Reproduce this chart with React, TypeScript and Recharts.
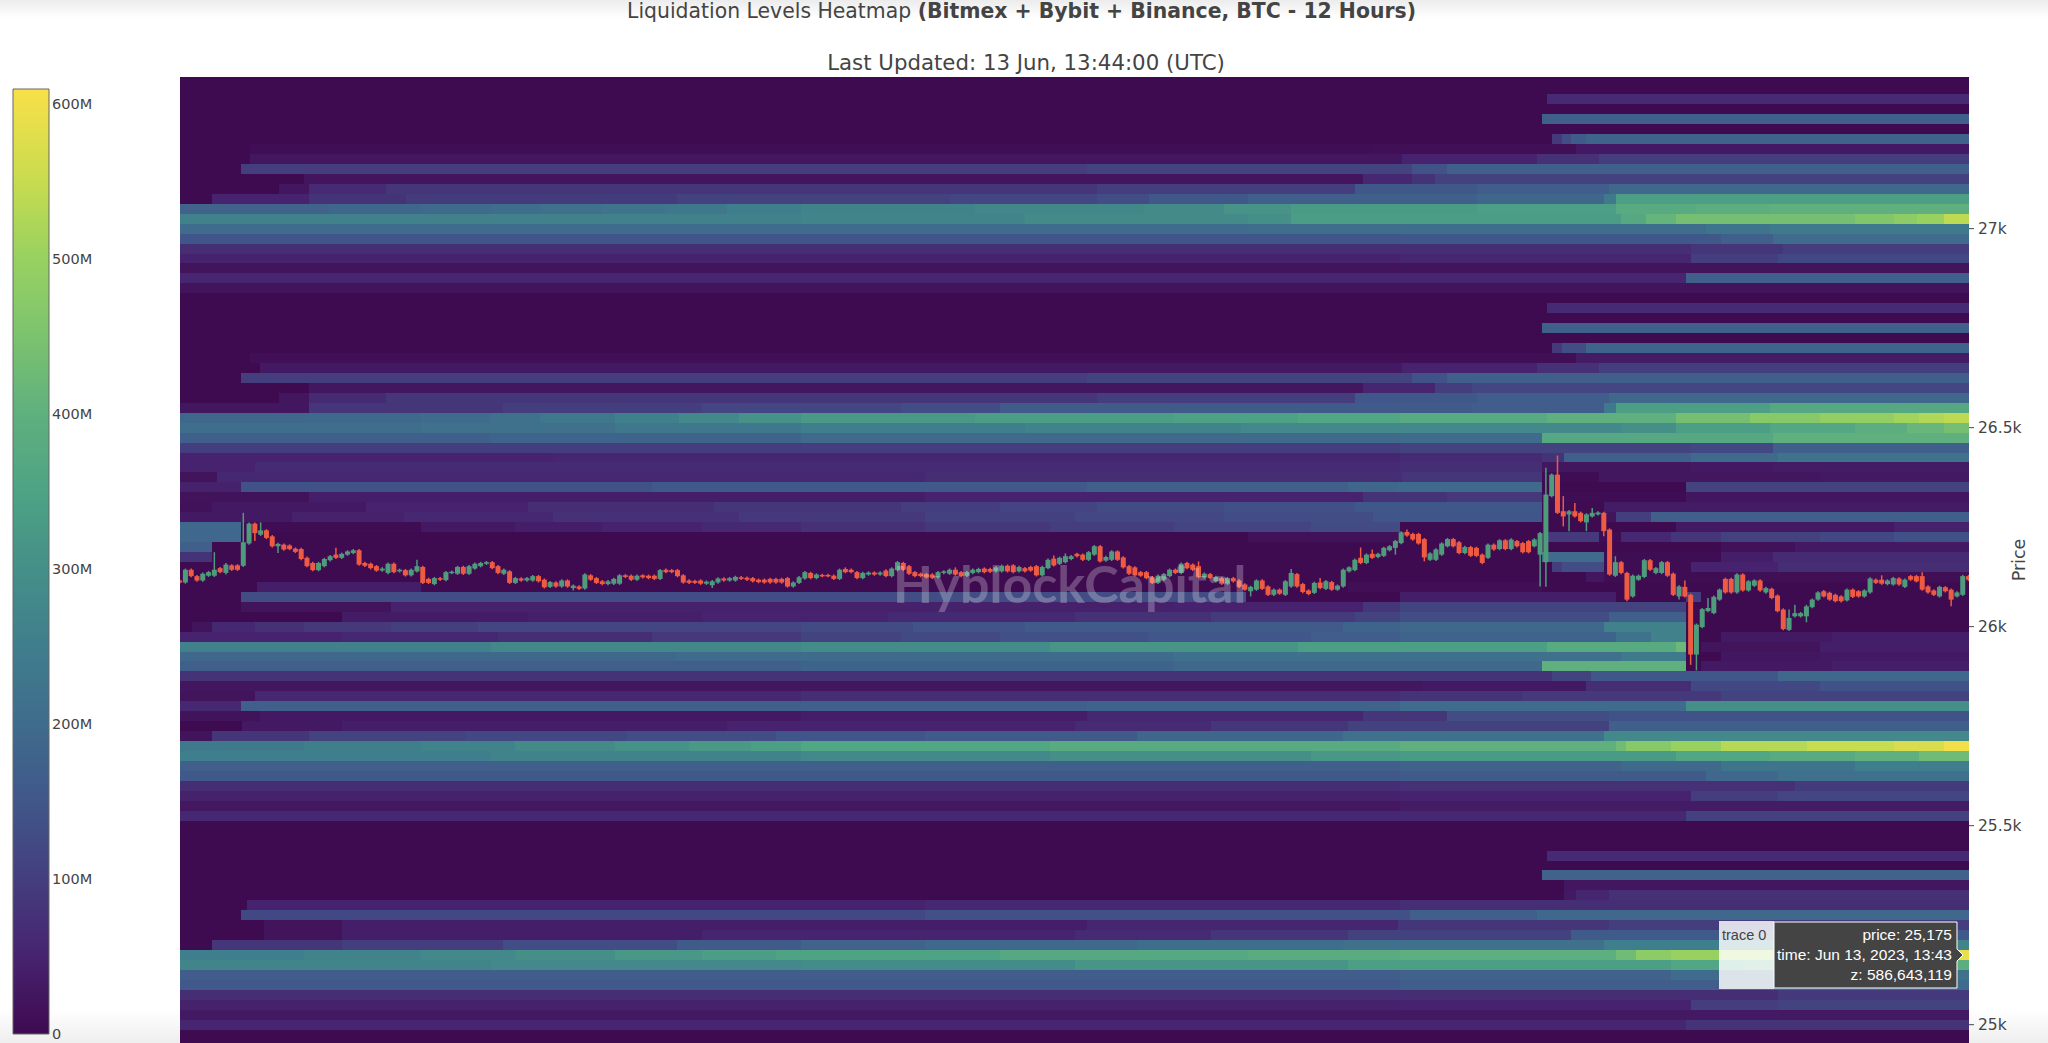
import React from 'react';
import { BarChart, Bar, ComposedChart, ReferenceArea, XAxis, YAxis } from 'recharts';

const PRICE_BIN = 25;
const LAST_MINUTE = 720;
const MINUTES_PER_CANDLE = 2.33;
const PRICE_BASE = 26000;

const priceTicks = [25000, 25500, 26000, 26500, 27000];
const zTicks = [0, 100, 200, 300, 400, 500, 600];

// z in millions -> colour
const zStops = [0, 50, 100, 150, 200, 250, 300, 350, 400, 450, 500, 550, 609];
const zColors = ['#3e0a50', '#47236f', '#443e7e', '#40578a', '#3f6c8c', '#3f7e8c', '#458f88', '#4ea384', '#5fb07e', '#7cc36f', '#98d160', '#c8dc4f', '#f9e049'];

// each level: price, then [start minute, z in millions] steps from the left edge
const heatLevels: [number, number[]][] = [
  [27325, [550, 65]],
  [27275, [548, 170]],
  [27225, [552, 90, 556, 130, 560, 160, 566, 180]],
  [27200, [28, 8, 480, 10, 562, 30]],
  [27175, [28, 25, 492, 50, 546, 75, 571, 100]],
  [27150, [24.5, 100, 365, 110, 496, 140, 510, 170]],
  [27125, [50, 22, 476, 60, 496, 80, 505, 105]],
  [27100, [40, 25, 52, 65, 83, 85, 369, 100, 473, 150, 522, 165, 575, 190]],
  [27075, [13, 50, 52, 80, 91, 95, 200, 105, 310, 115, 369, 130, 390, 150, 430, 170, 522, 185, 573, 240, 578, 340]],
  [27050, [0, 175, 60, 185, 97, 195, 125, 205, 145, 212, 170, 222, 195, 232, 220, 250, 250, 265, 320, 275, 388, 285, 420, 310, 447, 330, 522, 340, 578, 380, 610, 390, 640, 400]],
  [27025, [0, 260, 250, 270, 340, 285, 430, 300, 447, 335, 580, 370, 590, 410, 602, 440, 674, 460, 690, 480, 699, 500, 710, 540]],
  [27000, [0, 200, 430, 205, 614, 225, 640, 235]],
  [26975, [0, 145, 491, 150, 620, 170, 641, 200]],
  [26950, [0, 70, 608, 85, 645, 100]],
  [26925, [0, 48, 491, 55, 608, 100, 643, 120]],
  [26900, [0, 20]],
  [26875, [0, 55, 606, 170]],
  [26850, [0, 20]],
  [26800, [550, 65]],
  [26750, [548, 170]],
  [26700, [552, 90, 556, 130, 566, 180]],
  [26675, [28, 10, 562, 35]],
  [26650, [32, 30, 492, 50, 546, 75, 571, 100]],
  [26625, [24.5, 100, 365, 110, 496, 140, 510, 170]],
  [26600, [52, 25, 476, 55, 505, 100, 520, 115]],
  [26575, [40, 25, 52, 65, 83, 85, 369, 100, 473, 150, 522, 165, 575, 190]],
  [26550, [0, 25, 52, 85, 130, 100, 210, 115, 290, 130, 330, 160, 520, 165, 573, 240, 578, 340, 640, 370]],
  [26525, [0, 185, 50, 192, 97, 200, 125, 215, 145, 230, 175, 255, 201, 280, 225, 305, 250, 325, 320, 335, 400, 345, 450, 360, 491, 375, 550, 400, 602, 440, 632, 470, 660, 490, 690, 510, 700, 525, 710, 540]],
  [26500, [0, 205, 97, 215, 175, 232, 250, 250, 340, 265, 427, 280, 580, 300, 602, 340, 640, 365, 674, 390, 695, 415, 710, 440]],
  [26475, [0, 170, 125, 182, 250, 195, 491, 200, 548, 370, 641, 400]],
  [26450, [0, 100, 491, 110, 608, 120, 641, 170]],
  [26425, [0, 50, 150, 55, 491, 65, 548, 80, 557, 170, 608, 195, 643, 220]],
  [26400, [0, 50, 30, 65, 491, 70, 548, 25, 608, 30, 641, 35]],
  [26375, [0, 20, 15, 60, 300, 70, 492, 85, 548, 5, 571, 25, 660, 30]],
  [26350, [0, 45, 24.5, 140, 190, 155, 365, 170, 470, 185, 490, 195, 548, 0, 606, 110]],
  [26325, [0, 18, 52, 40, 300, 50, 476, 80, 510, 90, 548, 5, 606, 25]],
  [26300, [0, 15, 13, 30, 75, 50, 140, 70, 215, 85, 290, 100, 330, 112, 369, 125, 420, 138, 473, 150, 548, 3, 573, 35]],
  [26275, [0, 30, 45, 45, 90, 60, 150, 75, 225, 90, 300, 105, 360, 118, 420, 130, 480, 145, 548, 0, 573, 20, 578, 100, 592, 170]],
  [26250, [0, 190, 24.5, 5, 97, 30, 135, 40, 170, 50, 210, 62, 250, 75, 300, 88, 350, 100, 400, 112, 455, 125, 491, 0, 602, 30, 690, 45]],
  [26225, [0, 190, 24.5, 0, 430, 15, 491, 0, 550, 90, 571, 5, 580, 60, 600, 85, 620, 105, 660, 120, 690, 135]],
  [26200, [0, 170, 13, 0, 620, 15, 650, 30]],
  [26175, [0, 80, 13, 0, 548, 200, 573, 5, 620, 40, 641, 65]],
  [26150, [552, 100, 556, 130, 573, 5, 608, 50, 643, 70]],
  [26125, [566, 25, 573, 5, 620, 10]],
  [26100, [31, 40, 97, 0, 470, 10, 548, 0]],
  [26075, [24.5, 130, 429, 0, 491, 40, 578, 0, 606, 100, 612, 0]],
  [26050, [24.5, 20, 85, 45, 400, 50, 476, 85, 491, 110, 606, 0]],
  [26025, [65, 35, 140, 42, 210, 50, 285, 62, 360, 75, 415, 92, 473, 110, 491, 130, 575, 170, 606, 0]],
  [26000, [5, 20, 13, 60, 30, 75, 50, 90, 85, 102, 120, 115, 250, 125, 295, 142, 340, 160, 468, 180, 491, 190, 573, 260, 606, 0]],
  [25975, [0, 50, 65, 60, 128, 70, 190, 90, 250, 110, 290, 122, 330, 135, 390, 150, 455, 165, 491, 180, 578, 220, 592, 260, 606, 0, 620, 30, 665, 40]],
  [25950, [0, 260, 125, 275, 250, 290, 350, 315, 450, 340, 550, 380, 602, 420, 606, 0, 612, 20, 660, 40]],
  [25925, [0, 190, 200, 200, 400, 210, 580, 240, 606, 0, 620, 25, 660, 30]],
  [25900, [0, 170, 250, 180, 400, 190, 548, 400, 606, 0, 612, 30, 665, 40]],
  [25875, [0, 80, 552, 110, 568, 150, 643, 190]],
  [25850, [0, 25, 500, 30, 566, 70, 608, 120, 660, 140]],
  [25825, [0, 20, 30, 60, 250, 70, 491, 80, 540, 90, 620, 110]],
  [25800, [0, 60, 24.5, 170, 365, 180, 491, 200, 606, 300]],
  [25775, [0, 18, 32, 30, 250, 40, 365, 60, 476, 85, 510, 130, 575, 140]],
  [25750, [25, 30, 65, 40, 220, 50, 360, 65, 415, 85, 470, 105, 575, 170]],
  [25725, [0, 20, 13, 85, 52, 110, 115, 120, 180, 130, 240, 145, 300, 160, 385, 185, 468, 210, 573, 280]],
  [25700, [0, 240, 50, 252, 97, 265, 135, 285, 175, 305, 205, 325, 230, 340, 250, 360, 350, 380, 491, 400, 578, 430, 582, 470, 600, 500, 620, 530, 655, 550, 690, 570, 710, 600]],
  [25675, [0, 250, 125, 265, 250, 280, 350, 300, 455, 320, 491, 330, 602, 360, 640, 380, 674, 400, 700, 430]],
  [25650, [0, 170, 491, 175, 580, 195, 620, 225, 674, 250]],
  [25625, [0, 155, 491, 160, 614, 190, 643, 215]],
  [25600, [0, 70, 491, 75, 650, 95]],
  [25575, [0, 45, 491, 50, 608, 100, 643, 115]],
  [25550, [0, 28, 491, 35]],
  [25525, [0, 60, 606, 105]],
  [25425, [550, 65]],
  [25375, [548, 175]],
  [25350, [557, 25]],
  [25325, [557, 30, 562, 55, 575, 75]],
  [25300, [27, 50, 300, 60, 491, 70]],
  [25275, [24.5, 120, 300, 135, 495, 170, 546, 190]],
  [25250, [34, 20, 65, 40, 365, 55, 490, 85, 575, 100]],
  [25225, [34, 20, 65, 40, 210, 52, 360, 65, 415, 85, 470, 105, 560, 160]],
  [25200, [13, 85, 65, 100, 130, 130, 200, 160, 250, 175, 300, 190, 385, 202, 468, 215, 573, 250, 620, 270]],
  [25175, [0, 250, 50, 265, 97, 280, 135, 300, 175, 320, 210, 335, 240, 350, 330, 370, 430, 385, 491, 395, 578, 430, 586, 480, 600, 500, 620, 520, 650, 540, 680, 560, 710, 590]],
  [25150, [0, 270, 125, 280, 250, 290, 360, 315, 470, 340, 600, 360, 630, 390]],
  [25125, [0, 165, 491, 175, 600, 200, 640, 220]],
  [25100, [0, 155, 491, 165, 620, 200]],
  [25075, [0, 70, 643, 90]],
  [25050, [0, 45, 491, 50, 608, 100, 643, 110]],
  [25025, [0, 30]],
  [25000, [0, 55, 606, 80]],
];

// [open, close] as dollars above 26000
const candleBodies = [
  [116, 111], [111, 143], [143, 127], [127, 116], [116, 133], [128, 137], [128, 143], [147, 137], [135, 156], [154, 143],
  [154, 143], [153, 212], [209, 259], [259, 235], [231, 242], [242, 223], [227, 202], [202, 208], [206, 194], [204, 195],
  [196, 188], [195, 170], [173, 152], [160, 142], [142, 160], [152, 170], [167, 177], [181, 173], [173, 183], [181, 189],
  [185, 192], [192, 156], [160, 153], [158, 147], [152, 141], [141, 146], [135, 158], [158, 137], [139, 143], [142, 129],
  [129, 143], [139, 152], [150, 110], [120, 110], [107, 122], [122, 118], [117, 137], [135, 138], [133, 150], [150, 133],
  [133, 152], [146, 158], [152, 160], [158, 162], [162, 147], [152, 135], [133, 143], [139, 110], [110, 122], [121, 116],
  [116, 122], [116, 127], [127, 114], [118, 99], [100, 112], [111, 101], [101, 116], [116, 101], [97, 103], [101, 95],
  [96, 131], [129, 118], [122, 110], [114, 107], [107, 114], [108, 120], [108, 129], [129, 125], [128, 118], [118, 128],
  [129, 124], [128, 122], [128, 120], [120, 142], [143, 137], [142, 137], [142, 127], [129, 111], [116, 110], [115, 110],
  [116, 108], [108, 113], [104, 114], [111, 121], [121, 116], [116, 122], [116, 125], [124, 120], [123, 118], [122, 114],
  [118, 112], [118, 111], [120, 111], [120, 111], [120, 111], [122, 101], [101, 111], [110, 124], [121, 137], [135, 122],
  [122, 131], [130, 127], [130, 127], [128, 120], [120, 143], [145, 137], [143, 137], [137, 122], [122, 135], [131, 136],
  [136, 131], [131, 136], [141, 127], [127, 146], [142, 162], [160, 143], [152, 133], [137, 127], [133, 127], [132, 124],
  [131, 123], [124, 137], [135, 139], [133, 143], [143, 131], [137, 127], [128, 137], [135, 143], [137, 145], [146, 137],
  [145, 138], [139, 149], [139, 153], [153, 139], [154, 137], [139, 150], [147, 139], [150, 141], [152, 129], [129, 150],
  [147, 168], [171, 154], [158, 173], [162, 177], [170, 177], [183, 177], [181, 168], [168, 187], [181, 202], [202, 164],
  [166, 175], [168, 189], [189, 168], [174, 149], [152, 133], [149, 129], [137, 128], [137, 122], [124, 110], [110, 128],
  [118, 132], [127, 143], [143, 135], [135, 158], [160, 147], [156, 143], [152, 125], [124, 133], [132, 122], [114, 125],
  [122, 108], [108, 122], [122, 114], [116, 100], [106, 93], [89, 100], [93, 116], [116, 95], [101, 80], [80, 93],
  [93, 83], [80, 114], [101, 135], [132, 101], [107, 87], [91, 82], [85, 110], [111, 97], [95, 114], [112, 93],
  [93, 103], [101, 143], [139, 149], [142, 168], [173, 160], [160, 181], [183, 173], [175, 183], [178, 198], [192, 202],
  [198, 215], [210, 237], [238, 229], [233, 219], [233, 209], [220, 174], [168, 184], [168, 194], [181, 209], [202, 220],
  [220, 202], [212, 185], [185, 200], [200, 178], [198, 178], [181, 160], [173, 206], [206, 194], [195, 217], [217, 195],
  [195, 219], [215, 202], [210, 187], [215, 187], [202, 219], [181, 235], [162, 332], [328, 382], [382, 286], [290, 277],
  [282, 290], [290, 277], [286, 265], [262, 282], [277, 286], [282, 287], [286, 240], [244, 131], [128, 162], [162, 135],
  [135, 68], [76, 128], [118, 128], [125, 167], [167, 143], [135, 147], [135, 162], [162, 128], [133, 80], [76, 101],
  [100, 76], [80, -70], [-70, 5], [-1, 44], [39, 47], [34, 75], [68, 93], [120, 86], [120, 86], [86, 131],
  [131, 91], [91, 114], [103, 116], [116, 91], [86, 97], [95, 72], [78, 39], [43, -6], [-8, 22], [26, 34],
  [26, 34], [26, 51], [49, 68], [68, 86], [89, 76], [85, 68], [80, 64], [76, 64], [66, 93], [93, 75],
  [89, 76], [76, 91], [86, 121], [118, 110], [118, 108], [107, 116], [106, 122], [121, 106], [100, 118], [127, 118],
  [127, 114], [127, 93], [101, 86], [91, 80], [76, 100], [99, 89], [93, 68], [76, 86], [80, 127], [127, 118],
];

// long wicks only: [candle index, price above 26000]
const wickHighs = [
  [6, 187], [8, 160], [11, 286], [14, 262], [27, 198], [41, 168], [115, 149], [134, 149], [151, 179], [153, 184],
  [176, 164], [192, 145], [197, 122], [204, 199], [206, 194], [212, 244], [236, 399], [238, 430], [239, 328], [241, 311],
  [244, 298], [248, 177], [260, 116], [264, 72], [278, 43], [279, 55], [281, 55], [294, 129], [301, 137],
];
const wickLows = [
  [8, 131], [13, 215], [17, 185], [68, 91], [92, 97], [185, 76], [210, 181], [215, 164], [235, 101], [236, 100],
  [239, 252], [240, 240], [243, 240], [246, 227], [250, 64], [259, 68], [261, -96], [262, -110], [281, 11], [306, 51],
];

const GREEN = '#4f9c7c';
const RED = '#ee5a42';

const candleData = candleBodies.map(([open, close], i) => {
  const hi = wickHighs.find(w => w[0] === i);
  const lo = wickLows.find(w => w[0] === i);
  const high = PRICE_BASE + (hi ? hi[1] : Math.max(open, close) + 3);
  const low = PRICE_BASE + (lo ? lo[1] : Math.min(open, close) - 3);
  return {
    minute: i * MINUTES_PER_CANDLE,
    open: PRICE_BASE + open,
    close: PRICE_BASE + close,
    high,
    low,
    range: [low, high],
  };
});

const zColor = (z: number) => {
  let i = 0;
  while (i < zStops.length - 2 && z > zStops[i + 1]) i++;
  const t = Math.min(1, Math.max(0, (z - zStops[i]) / (zStops[i + 1] - zStops[i])));
  const a = zColors[i];
  const b = zColors[i + 1];
  const mix = (s: number) => {
    const from = parseInt(a.slice(s, s + 2), 16);
    const to = parseInt(b.slice(s, s + 2), 16);
    return Math.round(from + (to - from) * t).toString(16).padStart(2, '0');
  };
  return '#' + mix(1) + mix(3) + mix(5);
};

const heatCells = heatLevels.flatMap(([price, steps]) => {
  const cells = [];
  for (let i = 0; i < steps.length; i += 2) {
    if (steps[i + 1] === 0) continue;
    cells.push({
      price,
      from: steps[i],
      to: i + 2 < steps.length ? steps[i + 2] : LAST_MINUTE,
      z: steps[i + 1],
    });
  }
  return cells;
});

const HeatRect = (props: any) => (
  <rect x={props.x} y={props.y} width={props.width} height={props.height} fill={props.fill} shapeRendering="crispEdges" />
);

const Candle = (props: any) => {
  const { x, y, width, height, payload } = props;
  const top = Math.min(y, y + height);
  const h = Math.abs(height);
  const perDollar = h / (payload.high - payload.low);
  const yOf = (p: number) => top + (payload.high - p) * perDollar;
  const color = payload.close >= payload.open ? GREEN : RED;
  const bodyTop = yOf(Math.max(payload.open, payload.close));
  const bodyBottom = yOf(Math.min(payload.open, payload.close));
  const mid = x + width / 2;
  return (
    <g>
      <line x1={mid} x2={mid} y1={top} y2={top + h} stroke={color} strokeWidth={1.5} />
      <rect x={x} y={bodyTop} width={width} height={Math.max(1.5, bodyBottom - bodyTop)} fill={color} />
    </g>
  );
};

const FONT = '"DejaVu Sans", sans-serif';

const App = () => {
  return (
    <div style={{ position: 'absolute', left: 0, top: 0, width: 2048, height: 1043, overflow: 'hidden', background: '#fff', fontFamily: FONT }}>
      <div style={{ position: 'absolute', left: 0, top: 0, width: 2048, height: 18, background: 'linear-gradient(#ececec, #fff)' }} />
      <div style={{ position: 'absolute', left: 0, bottom: 0, width: 2048, height: 34, background: 'linear-gradient(#fff, #eeeeee)' }} />
      <div style={{ position: 'absolute', left: 0, top: -2, width: 2043, textAlign: 'center', fontSize: 20.4, lineHeight: '26px', color: '#444', whiteSpace: 'nowrap' }}>
        Liquidation Levels Heatmap <b>(Bitmex + Bybit + Binance, BTC - 12 Hours)</b>
      </div>
      <div style={{ position: 'absolute', left: 0, top: 50, width: 2052, textAlign: 'center', fontSize: 21.3, lineHeight: '26px', color: '#444', whiteSpace: 'nowrap' }}>
        Last Updated: 13 Jun, 13:44:00 (UTC)
      </div>

      <div style={{ position: 'absolute', left: 0, top: 0 }}>
        <BarChart width={180} height={1043} data={[{ name: 'z', top: 609.3 }]} margin={{ top: 89, right: 0, bottom: 9, left: 13 }} barCategoryGap={0}>
          <defs>
            <linearGradient id="zScale" x1="0" y1="1" x2="0" y2="0">
              {zStops.map((z, i) => (
                <stop key={z} offset={z / 609} stopColor={zColors[i]} />
              ))}
            </linearGradient>
          </defs>
          <XAxis dataKey="name" hide />
          <YAxis
            orientation="right"
            width={131}
            domain={[0, 609.3]}
            ticks={zTicks}
            axisLine={false}
            tickLine={false}
            tickSize={0}
            tickMargin={3}
            interval={0}
            tickFormatter={(v: number) => (v === 0 ? '0' : `${v}M`)}
            tick={{ fill: '#444', fontSize: 14.5, fontFamily: FONT, textAnchor: 'start' }}
          />
          <Bar dataKey="top" fill="url(#zScale)" stroke="#666" strokeWidth={1} isAnimationActive={false} />
        </BarChart>
      </div>

      <div style={{ position: 'absolute', left: 0, top: 0 }}>
        <ComposedChart width={2048} height={1043} data={candleData} margin={{ top: 77, right: 0, bottom: 0, left: 180 }}>
          <XAxis dataKey="minute" type="number" domain={[0, LAST_MINUTE]} hide allowDataOverflow />
          <YAxis
            orientation="right"
            width={79}
            type="number"
            domain={[24954, 27381]}
            ticks={priceTicks}
            interval={0}
            allowDataOverflow
            axisLine={false}
            tickLine={{ stroke: '#444' }}
            tickSize={5}
            tickMargin={4}
            tickFormatter={(v: number) => `${v / 1000}k`}
            tick={{ fill: '#444', fontSize: 15.5, fontFamily: FONT }}
          />
          <ReferenceArea x1={0} x2={LAST_MINUTE} y1={24954} y2={27381} fill={zColors[0]} fillOpacity={1} shape={HeatRect} />
          {heatCells.map(c => (
            <ReferenceArea
              key={`${c.price}-${c.from}`}
              x1={c.from}
              x2={c.to}
              y1={c.price - PRICE_BIN / 2}
              y2={c.price + PRICE_BIN / 2}
              fill={zColor(c.z)}
              fillOpacity={1}
              shape={HeatRect}
            />
          ))}
          <Bar dataKey="range" barSize={5} shape={Candle} isAnimationActive={false} />
        </ComposedChart>
      </div>

      <div style={{ position: 'absolute', left: 893, top: 553, fontFamily: 'Lato, sans-serif', fontWeight: 700, fontSize: 52, lineHeight: '60px', color: 'rgba(255,255,255,0.25)', whiteSpace: 'nowrap' }}>
        HyblockCapital
      </div>

      <svg width={2048} height={1043} style={{ position: 'absolute', left: 0, top: 0 }}>
        <text x={0} y={0} transform="translate(2025,560) rotate(-90)" textAnchor="middle" fontFamily={FONT} fontSize={17.5} fill="#444">Price</text>
        <rect x={1719} y={921} width={55} height={68} fill="#fff" fillOpacity={0.82} />
        <text x={1722} y={940} fontFamily="Liberation Sans" fontSize={14.5} fill="#444">trace 0</text>
        <polygon points="1774,922 1957,922 1957,949 1963,955 1957,961 1957,988 1774,988" fill="#444" stroke="#fff" strokeWidth={1} />
        <g fontFamily="Liberation Sans" fontSize={15.5} fill="#fff" textAnchor="end">
          <text x={1952} y={940}>price: 25,175</text>
          <text x={1952} y={960}>time: Jun 13, 2023, 13:43</text>
          <text x={1952} y={980}>z: 586,643,119</text>
        </g>
      </svg>
    </div>
  );
};

export default App;
